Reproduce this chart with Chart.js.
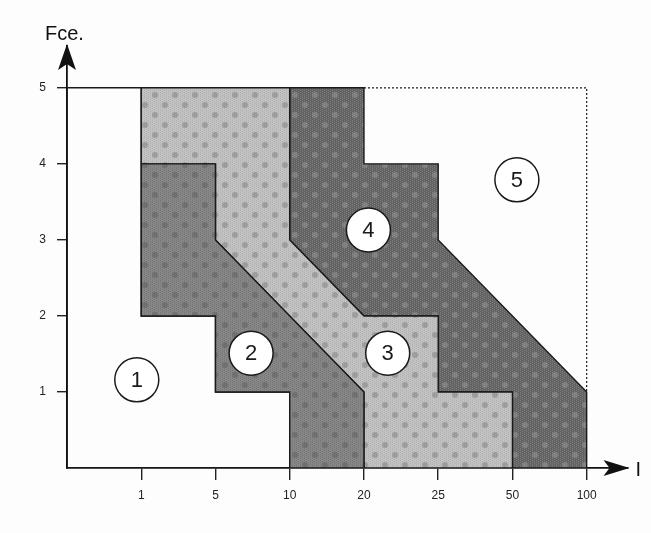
<!DOCTYPE html>
<html>
<head>
<meta charset="utf-8">
<script src="https://cdn.jsdelivr.net/npm/chart.js@4.4.0/dist/chart.umd.min.js"></script>
<style>
    html, body { margin: 0; padding: 0; background: #fdfdfd; }
    #wrap { width: 651px; height: 533px; }
</style>
</head>
<body>
<div id="wrap"><canvas id="riskChart" width="651" height="533"></canvas></div>
<script>
// x axis is an ordinal index: position i carries label xTickLabels[i - 1]
let xTickLabels = ['1', '5', '10', '20', '25', '50', '100'];
let yTickValues = [1, 2, 3, 4, 5];

// zone boundaries, [x index, Fce.]
let zone1 = [[0, 0], [0, 5], [1, 5], [1, 2], [2, 2], [2, 1], [3, 1], [3, 0], [0, 0]];
let zone2 = [[1, 4], [2, 4], [2, 3], [4, 1], [4, 0], [3, 0], [3, 1], [2, 1], [2, 2], [1, 2], [1, 4]];
let zone3 = [[1, 5], [3, 5], [3, 3], [4, 2], [5, 2], [5, 1], [6, 1], [6, 0], [4, 0], [4, 1], [2, 3], [2, 4], [1, 4], [1, 5]];
let zone4 = [[3, 5], [4, 5], [4, 4], [5, 4], [5, 3], [7, 1], [7, 0], [6, 0], [6, 1], [5, 1], [5, 2], [4, 2], [3, 3], [3, 5]];
let zone5 = [[4, 5], [7, 5], [7, 1]];

// circled zone numbers
let zoneNames = ['1', '2', '3', '4', '5'];
let zoneLabelX = [0.94, 2.48, 4.32, 4.06, 6.06];
let zoneLabelY = [1.16, 1.51, 1.51, 3.13, 3.79];

let canvas = document.getElementById('riskChart');
let context = canvas.getContext('2d');

function toPoints(arr) {
    return arr.map(p => ({ x: p[0], y: p[1] }));
}

// halftone-ish tile: base tone, fine checker, soft dot clusters
function makePattern(base, fine, dot, dotR) {
    let tile = document.createElement('canvas');
    tile.width = 20;
    tile.height = 20;
    let g = tile.getContext('2d');
    g.fillStyle = base;
    g.fillRect(0, 0, 20, 20);
    g.fillStyle = fine;
    for (let i = 0; i < 20; i += 2) {
        for (let j = (i / 2) % 2; j < 20; j += 2) {
            g.fillRect(i, j, 1, 1);
        }
    }
    g.fillStyle = dot;
    [[5, 5], [15, 15]].forEach(p => {
        g.beginPath();
        g.arc(p[0], p[1], dotR, 0, Math.PI * 2);
        g.fill();
    });
    return context.createPattern(tile, 'repeat');
}

let fill2 = makePattern('#878787', '#747474', 'rgba(100,100,100,0.6)', 3);
let fill3 = makePattern('#c2c2c2', '#b0b0b0', 'rgba(135,135,135,0.6)', 3);
let fill4 = makePattern('#626262', '#7e7e7e', 'rgba(150,150,150,0.55)', 3);

function zoneDataset(arr, bg, order) {
    return {
        data: toPoints(arr),
        borderColor: '#1a1a1a',
        borderWidth: 1.4,
        backgroundColor: bg,
        fill: bg ? 'shape' : false,
        pointRadius: 0,
        tension: 0,
        borderJoinStyle: 'miter',
        order: order
    };
}

let zoneText = {
    id: 'zoneText',
    afterDatasetsDraw(chart) {
        let ctx = chart.ctx;
        let xs = chart.scales.x, ys = chart.scales.y;
        ctx.save();
        ctx.fillStyle = '#1a1a1a';
        ctx.font = '22px "Liberation Sans", Arial, sans-serif';
        ctx.textAlign = 'center';
        ctx.textBaseline = 'middle';
        zoneNames.forEach((n, i) => {
            ctx.fillText(n, xs.getPixelForValue(zoneLabelX[i]), ys.getPixelForValue(zoneLabelY[i]) + 1);
        });
        ctx.restore();
    }
};

let axisArrows = {
    id: 'axisArrows',
    afterDraw(chart) {
        let ctx = chart.ctx;
        let a = chart.chartArea;
        ctx.save();
        ctx.fillStyle = '#111';
        // y arrow
        ctx.beginPath();
        ctx.moveTo(a.left, a.top - 2);
        ctx.lineTo(a.left + 9, a.top + 24);
        ctx.lineTo(a.left, a.top + 18);
        ctx.lineTo(a.left - 9, a.top + 24);
        ctx.closePath();
        ctx.fill();
        // x arrow
        ctx.beginPath();
        ctx.moveTo(a.right + 2, a.bottom);
        ctx.lineTo(a.right - 24, a.bottom - 8);
        ctx.lineTo(a.right - 18, a.bottom);
        ctx.lineTo(a.right - 24, a.bottom + 8);
        ctx.closePath();
        ctx.fill();
        ctx.font = '20px "Liberation Sans", Arial, sans-serif';
        ctx.textAlign = 'left';
        ctx.textBaseline = 'alphabetic';
        ctx.fillText('Fce.', a.left - 22, a.top - 6);
        ctx.fillText('I', a.right + 8, a.bottom + 8);
        ctx.restore();
    }
};

new Chart(canvas, {
    type: 'line',
    data: {
        datasets: [
            {
                data: zoneLabelX.map((x, i) => ({ x: x, y: zoneLabelY[i] })),
                showLine: false,
                pointRadius: 22,
                pointBackgroundColor: '#ffffff',
                pointBorderColor: '#1a1a1a',
                pointBorderWidth: 1.5,
                order: 0
            },
            Object.assign(zoneDataset(zone5, null, 1), { borderDash: [2, 2], borderWidth: 1.2 }),
            zoneDataset(zone2, fill2, 2),
            zoneDataset(zone3, fill3, 3),
            zoneDataset(zone4, fill4, 4),
            zoneDataset(zone1, null, 5)
        ]
    },
    options: {
        responsive: false,
        animation: false,
        events: [],
        layout: { padding: { top: 46, right: 15, left: 0, bottom: 0 } },
        plugins: { legend: { display: false }, tooltip: { enabled: false } },
        scales: {
            x: {
                type: 'linear',
                min: 0,
                max: 7.55,
                afterBuildTicks: scale => { scale.ticks = xTickLabels.map((_, i) => ({ value: i + 1 })); },
                afterFit: scale => { scale.height = 65; },
                ticks: {
                    callback: v => xTickLabels[v - 1],
                    color: '#222',
                    padding: 8,
                    maxRotation: 0,
                    font: { family: '"Liberation Sans", Arial, sans-serif', size: 12 }
                },
                grid: { drawOnChartArea: false, tickLength: 12, color: '#222', lineWidth: 1.4 },
                border: { color: '#111', width: 1.8 }
            },
            y: {
                type: 'linear',
                min: 0,
                max: 5.55,
                afterBuildTicks: scale => { scale.ticks = yTickValues.map(v => ({ value: v })); },
                afterFit: scale => { scale.width = 67; },
                ticks: {
                    color: '#222',
                    padding: 11,
                    font: { family: '"Liberation Sans", Arial, sans-serif', size: 12 }
                },
                grid: { drawOnChartArea: false, tickLength: 10, color: '#222', lineWidth: 1.4 },
                border: { color: '#111', width: 1.8 }
            }
        }
    },
    plugins: [zoneText, axisArrows]
});
</script>
</body>
</html>
